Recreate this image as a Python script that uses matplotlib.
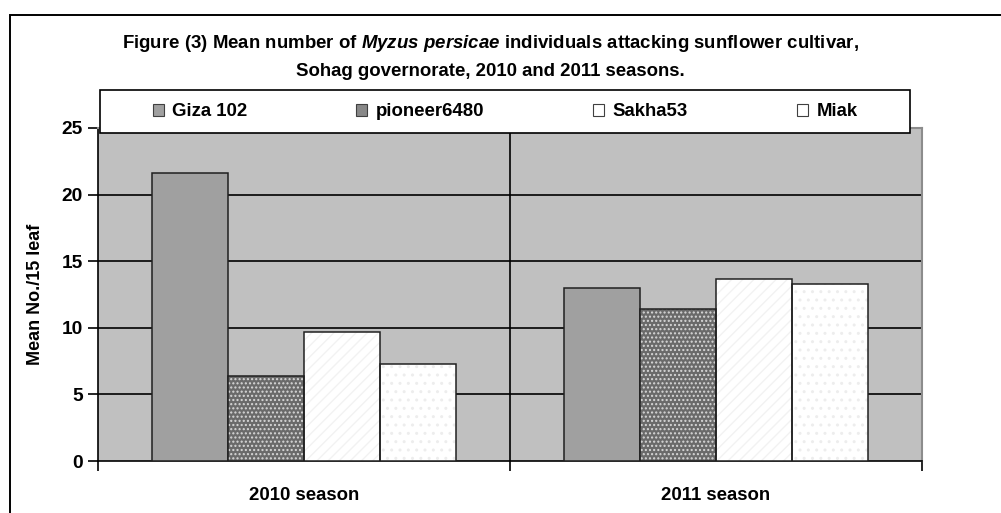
import matplotlib
matplotlib.use("Agg")
import matplotlib.pyplot as plt
from matplotlib.patches import Patch, Rectangle
import numpy as np

plt.rcParams['font.family'] = ['Liberation Sans', 'DejaVu Sans']
plt.rcParams['font.weight'] = 'bold'
plt.rcParams['axes.labelweight'] = 'bold'
plt.rcParams['mathtext.fontset'] = 'custom'
plt.rcParams['mathtext.rm'] = 'Liberation Sans:bold'
plt.rcParams['mathtext.it'] = 'Liberation Sans:italic:bold'
plt.rcParams['hatch.linewidth'] = 1.0

# Mittlere Blattlauszahl je 15 Blaetter
seasons = ['2010 season', '2011 season']
cultivars = ['Giza 102', 'pioneer6480', 'Sakha53', 'Miak']
giza = [21.6, 13.0]
pioneer = [6.4, 11.4]
sakha = [9.7, 13.7]
miak = [7.3, 13.3]
y_ticks = [0, 5, 10, 15, 20, 25]

values = [giza, pioneer, sakha, miak]
# Fuellung, Schraffur, Schraffurfarbe
styles = [
    ('#A0A0A0', None, None),
    ('#6A6A6A', '....', '#D8D8D8'),
    ('#FFFFFF', '///', '#F2F2F2'),
    ('#FFFFFF', '..', '#EDEDED'),
]

fig = plt.figure(figsize=(10.01, 5.13), dpi=100)
W, H = 1001, 513
fs = 13.4

# Aeusserer Rahmen (nur links und oben sichtbar)
fig.add_artist(Rectangle((10 / W, -0.1), 1.2, (H - 15) / H + 0.1,
                         transform=fig.transFigure, fill=False,
                         edgecolor='black', linewidth=1.4))

ax = fig.add_axes([98 / W, 52 / H, 824 / W, 333 / H])
ax.set_facecolor('#C0C0C0')

x = np.arange(len(seasons))
width = 0.1845
for i, (vals, (fc, hatch, hc)) in enumerate(zip(values, styles)):
    pos = x + (i - 1.5) * width
    if hatch:
        ax.bar(pos, vals, width, color=fc, hatch=hatch, edgecolor=hc,
               linewidth=0, zorder=3)
        ax.bar(pos, vals, width, fill=False, edgecolor='#202020',
               linewidth=1.1, zorder=4)
    else:
        ax.bar(pos, vals, width, color=fc, edgecolor='#202020',
               linewidth=1.1, zorder=3)

ax.set_xlim(-0.5, 1.5)
ax.set_ylim(0, 25)

# Gitterlinien
for yv in y_ticks[1:-1]:
    ax.axhline(yv, color='black', linewidth=1.2, zorder=1)
ax.axvline(0.5, color='black', linewidth=1.2, zorder=1)

for side in ['top', 'right']:
    ax.spines[side].set_color('#8C8C8C')
    ax.spines[side].set_linewidth(1.5)
for side in ['left', 'bottom']:
    ax.spines[side].set_color('black')
    ax.spines[side].set_linewidth(1.2)

ax.set_yticks(y_ticks)
ax.tick_params(axis='y', direction='out', length=7, width=1.2,
               labelsize=13.8, pad=4)
ax.set_xticks([-0.5, 0.5, 1.5])
ax.set_xticklabels([])
ax.tick_params(axis='x', which='major', direction='out', length=7, width=1.2)
ax.set_xticks(x, minor=True)
ax.set_xticklabels(seasons, minor=True, fontsize=fs)
ax.tick_params(axis='x', which='minor', length=0, pad=19)

ax.set_ylabel('Mean No./15 leaf', fontsize=13, fontweight='bold')
ax.yaxis.set_label_coords(-54 / 824, 0.5)

fig.text(490 / W, (H - 44) / H,
         r'Figure (3) Mean number of $\it{Myzus\ persicae}$ individuals attacking sunflower cultivar,',
         ha='center', va='center', fontsize=fs)
fig.text(490 / W, (H - 72) / H, 'Sohag governorate, 2010 and 2011 seasons.',
         ha='center', va='center', fontsize=fs)

# Legendenkasten
fig.add_artist(Rectangle((100 / W, (H - 133) / H), 810 / W, 43 / H,
                         transform=fig.transFigure, facecolor='white',
                         edgecolor='black', linewidth=1.2, zorder=9))

handles = [
    Patch(facecolor='#A0A0A0', edgecolor='#404040', linewidth=0.8),
    Patch(facecolor='#888888', edgecolor='#404040', linewidth=0.8),
    Patch(facecolor='white', edgecolor='#404040', linewidth=0.8),
    Patch(facecolor='white', edgecolor='#404040', linewidth=0.8),
]

leg = fig.legend(handles, cultivars, loc='center', ncol=4,
                 bbox_to_anchor=(505 / W, (H - 112) / H),
                 borderaxespad=0, frameon=False, fontsize=fs,
                 handlelength=0.6, handleheight=0.6, handletextpad=0.45,
                 columnspacing=5.85, borderpad=0)
leg.set_zorder(10)

fig.savefig('out.png', dpi=100)
